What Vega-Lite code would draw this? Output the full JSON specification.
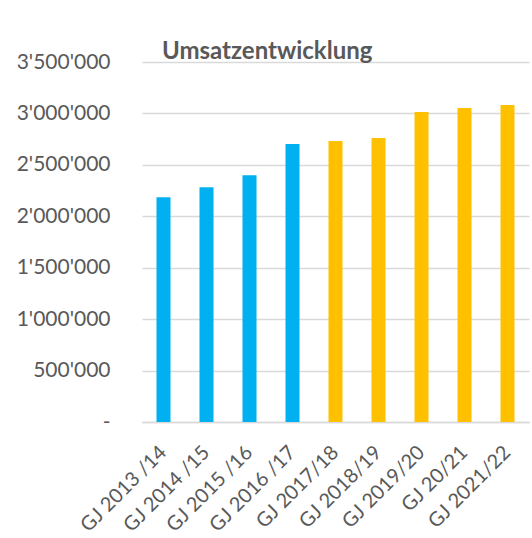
{
  "$schema": "https://vega.github.io/schema/vega-lite/v6.json",
  "autosize": {"type": "none"},
  "width": 387,
  "height": 360,
  "padding": {"left": 142, "top": 62, "right": 3, "bottom": 116},
  "background": "white",
  "config": {
    "locale": {"number": {"decimal": ".", "thousands": "'", "grouping": [3], "currency": ["", ""]}},
    "view": {"stroke": null},
    "font": "Lato"
  },
  "title": {
    "text": "Umsatzentwicklung",
    "anchor": "start",
    "frame": "group",
    "dx": 20,
    "offset": -13,
    "font": "Lato",
    "fontSize": 24,
    "fontWeight": "bold",
    "color": "#595959"
  },
  "data": {
    "values": [
      {"jahr": "GJ 2013 /14", "umsatz": 2186000, "gruppe": "Ist"},
      {"jahr": "GJ 2014 /15", "umsatz": 2283000, "gruppe": "Ist"},
      {"jahr": "GJ 2015 /16", "umsatz": 2400000, "gruppe": "Ist"},
      {"jahr": "GJ 2016 /17", "umsatz": 2702000, "gruppe": "Ist"},
      {"jahr": "GJ 2017/18", "umsatz": 2731000, "gruppe": "Plan"},
      {"jahr": "GJ 2018/19", "umsatz": 2760000, "gruppe": "Plan"},
      {"jahr": "GJ 2019/20", "umsatz": 3013000, "gruppe": "Plan"},
      {"jahr": "GJ 20/21", "umsatz": 3052000, "gruppe": "Plan"},
      {"jahr": "GJ 2021/22", "umsatz": 3081000, "gruppe": "Plan"}
    ]
  },
  "mark": {"type": "bar", "width": 14},
  "encoding": {
    "x": {
      "field": "jahr",
      "type": "nominal",
      "sort": null,
      "scale": {"paddingInner": 0.67, "paddingOuter": 0.335},
      "axis": {
        "title": null,
        "ticks": false,
        "domainColor": "#d9d9d9",
        "domainWidth": 1.5,
        "labelAngle": -45,
        "labelAlign": "right",
        "labelBaseline": "middle",
        "labelPadding": 27,
        "labelFont": "Lato",
        "labelFontSize": 20,
        "labelColor": "#595959"
      }
    },
    "y": {
      "field": "umsatz",
      "type": "quantitative",
      "scale": {"domain": [0, 3500000]},
      "axis": {
        "title": null,
        "values": [0, 500000, 1000000, 1500000, 2000000, 2500000, 3000000, 3500000],
        "format": ",d",
        "labelExpr": "datum.value == 0 ? '-\u2002' : datum.label",
        "ticks": false,
        "domain": false,
        "grid": true,
        "gridColor": "#d9d9d9",
        "gridWidth": 1.5,
        "labelPadding": 32,
        "labelFont": "Lato",
        "labelFontSize": 21,
        "labelColor": "#595959"
      }
    },
    "color": {
      "field": "gruppe",
      "type": "nominal",
      "scale": {"domain": ["Ist", "Plan"], "range": ["#00B0F0", "#FFC000"]},
      "legend": null
    }
  }
}
